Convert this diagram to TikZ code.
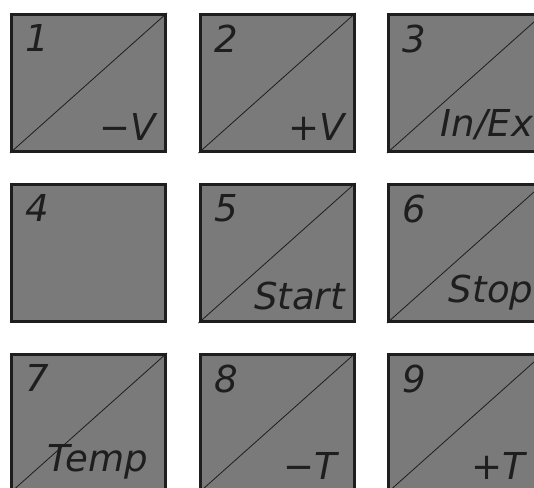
\documentclass[tikz,border=0pt]{standalone}
\usepackage{fontspec}
\newfontfamily\gostfont{DejaVu Sans}
\usetikzlibrary{positioning}
\definecolor{panelgrey}{RGB}{122,122,122}
\definecolor{rimgrey}{RGB}{30,30,30}
\begin{document}
\begin{tikzpicture}[x=0.75pt, y=-0.75pt,
    taste/.style={rectangle, draw=rimgrey, line width=2.25pt, fill=panelgrey,
      minimum width=115.5pt, minimum height=102.75pt, inner sep=0pt},
    schraeg/.style={draw=rimgrey, line width=0.6pt},
    nummer/.style={font=\gostfont\itshape\fontsize{27.8}{30}\selectfont,
      text=rimgrey, inner sep=0pt, anchor=north west},
    funktion/.style={nummer, anchor=south east}]
  \useasboundingbox (0,0) rectangle (534,487);
  % row 1
  \node[taste] (t1) at (88.5,83)  {};
  \node[taste] (t2) at (277,83)   {};
  \node[taste] (t3) at (465.5,83) {};
  \draw[schraeg] (t1.south west) -- (t1.north east);
  \draw[schraeg] (t2.south west) -- (t2.north east);
  \draw[schraeg] (t3.south west) -- (t3.north east);
  \node[nummer, below right=8.6pt and 11.5pt of t1.north west] (n1) {1};
  \node[nummer, below right=8.6pt and 11.5pt of t2.north west] (n2) {2};
  \node[nummer, below right=8.6pt and 11.5pt of t3.north west] (n3) {3};
  \node[funktion, above left=9.4pt and 7.9pt of t1.south east] (f1) {−V};
  \node[funktion, above left=9.4pt and 7.9pt of t2.south east] (f2) {+V};
  \node[funktion, above left=9.4pt and 7.9pt of t3.south east] (f3) {In/Ex};
  % row 2
  \node[taste] (t4) at (88.5,253)  {};
  \node[taste] (t5) at (277,253)   {};
  \node[taste] (t6) at (465.5,253) {};
  \draw[schraeg] (t5.south west) -- (t5.north east);
  \draw[schraeg] (t6.south west) -- (t6.north east);
  \node[nummer, below right=8.6pt and 11.5pt of t4.north west] (n4) {4};
  \node[nummer, below right=8.6pt and 11.5pt of t5.north west] (n5) {5};
  \node[nummer, below right=8.6pt and 11.5pt of t6.north west] (n6) {6};
  \node[funktion, above left=9.4pt and 7.9pt of t5.south east] (f5) {Start};
  \node[funktion, above left=9.4pt and 7.9pt of t6.south east] (f6) {Stop};
  % row 3
  \node[taste] (t7) at (88.5,423)  {};
  \node[taste] (t8) at (277,423)   {};
  \node[taste] (t9) at (465.5,423) {};
  \draw[schraeg] (t7.south west) -- (t7.north east);
  \draw[schraeg] (t8.south west) -- (t8.north east);
  \draw[schraeg] (t9.south west) -- (t9.north east);
  \node[nummer, below right=8.6pt and 11.5pt of t7.north west] (n7) {7};
  \node[nummer, below right=8.6pt and 11.5pt of t8.north west] (n8) {8};
  \node[nummer, below right=8.6pt and 11.5pt of t9.north west] (n9) {9};
  \node[funktion, above left=10pt and 13.9pt of t7.south east] (f7) {Temp};
  \node[funktion, above left=10pt and 13.9pt of t8.south east] (f8) {−T};
  \node[funktion, above left=10pt and 13.9pt of t9.south east] (f9) {+T};
\end{tikzpicture}
\end{document}
